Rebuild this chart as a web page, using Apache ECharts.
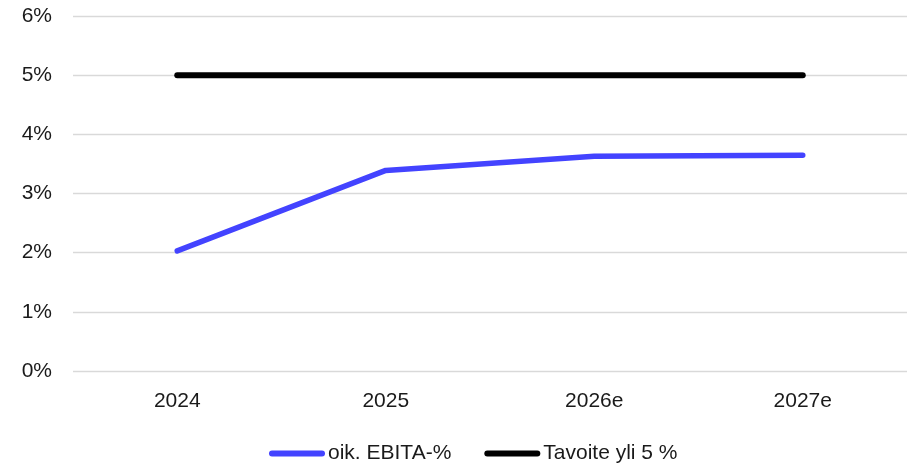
<!DOCTYPE html>
<html>
<head>
<meta charset="utf-8">
<script src="https://cdn.jsdelivr.net/npm/echarts@6/dist/echarts.min.js"></script>
<style>
  html, body { margin: 0; padding: 0; background: #fff; }
  #chart { width: 907px; height: 465px; }
</style>
</head>
<body>
<div id="chart"></div>
<script>
// Years on the x axis
const years = ['2024', '2025', '2026e', '2027e'];
// Adjusted EBITA margin, percent
const ebitaMargin = [2.03, 3.39, 3.63, 3.645];
// Target level: above 5 %
const targetMargin = [5, 5, 5, 5];

const seriesNames = ['oik. EBITA-%', 'Tavoite yli 5 %'];
const fontFamily = '"Liberation Sans", Arial, sans-serif';
const textColor = '#1a1a1a';
// Pill-shaped legend marker
const pillIcon = 'path://M3,0 L53,0 A3,3 0 0 1 53,6 L3,6 A3,3 0 0 1 3,0 Z';

const chart = echarts.init(document.getElementById('chart'), null, { renderer: 'canvas' });
chart.setOption({
  animation: false,
  backgroundColor: '#ffffff',
  grid: { left: 73, right: 0, top: 16, bottom: 94, containLabel: false },
  xAxis: {
    type: 'category',
    data: years,
    boundaryGap: true,
    axisLine: { show: false },
    axisTick: { show: false },
    axisLabel: { color: textColor, fontSize: 21, fontFamily: fontFamily, margin: 20 }
  },
  yAxis: {
    type: 'value',
    min: 0,
    max: 6,
    interval: 1,
    axisLine: { show: false },
    axisTick: { show: false },
    splitLine: { lineStyle: { color: '#d9d9d9', width: 1.3 } },
    axisLabel: {
      color: textColor, fontSize: 21, fontFamily: fontFamily, margin: 21,
      formatter: v => v + '%'
    }
  },
  legend: {
    left: 264,
    top: 438,
    itemWidth: 56,
    itemHeight: 6,
    itemGap: 33,
    textStyle: { color: textColor, fontSize: 21, fontFamily: fontFamily, padding: [0, 0, 0, -2] },
    data: [
      { name: seriesNames[0], icon: pillIcon, itemStyle: { color: '#4343ff' } },
      { name: seriesNames[1], icon: pillIcon, itemStyle: { color: '#000000' } }
    ]
  },
  series: [
    {
      name: seriesNames[0],
      type: 'line',
      data: ebitaMargin,
      symbol: 'none',
      color: '#4343ff',
      lineStyle: { color: '#4343ff', width: 5.5, cap: 'round', join: 'round' }
    },
    {
      name: seriesNames[1],
      type: 'line',
      data: targetMargin,
      symbol: 'none',
      color: '#000000',
      lineStyle: { color: '#000000', width: 6, cap: 'round', join: 'round' }
    }
  ]
});
</script>
</body>
</html>
